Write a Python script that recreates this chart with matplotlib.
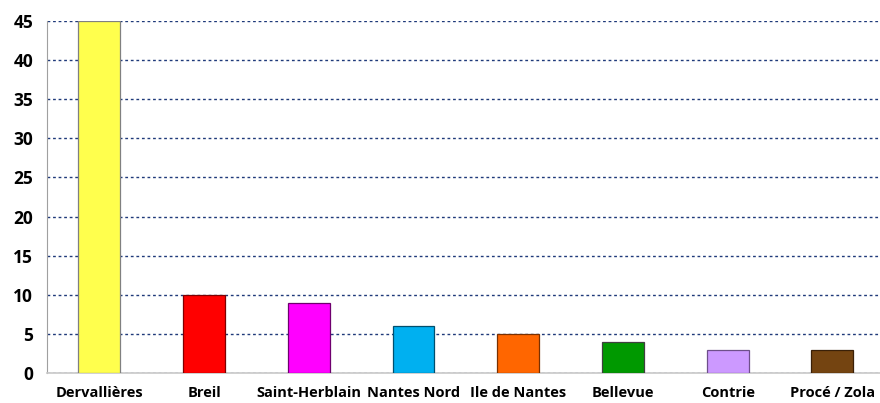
import matplotlib
matplotlib.use("Agg")
import matplotlib.pyplot as plt

quartiers = ["Dervallières", "Breil", "Saint-Herblain", "Nantes Nord",
             "Ile de Nantes", "Bellevue", "Contrie", "Procé / Zola"]
valeurs = [45, 10, 9, 6, 5, 4, 3, 3]
couleurs = ["#FFFF4D", "#FF0000", "#FF00FF", "#00B0F0",
            "#FF6600", "#009900", "#CC99FF", "#744411"]
bords = ["#808080", "#7F0000", "#6E006E", "#004F6E",
         "#7A3000", "#404040", "#6E4F8A", "#3A2008"]

plt.rcParams["font.family"] = ["Open Sans", "DejaVu Sans"]

fig = plt.figure(figsize=(8.8, 4.03), dpi=100)
ax = fig.add_axes([0.0534, 0.0744, 0.952, 0.8735])

x = range(len(quartiers))
ax.bar(x, valeurs, width=0.4, color=couleurs, edgecolor=bords,
       linewidth=0.9, zorder=3)

ax.set_xlim(-0.5, len(quartiers) - 0.5)
ax.set_ylim(0, 45)
ax.set_yticks(range(0, 46, 5))
ax.set_xticks(list(x))
ax.set_xticklabels(quartiers, fontsize=10.5, fontweight="bold")
for lab in ax.get_yticklabels():
    lab.set_fontsize(12.5)
    lab.set_fontweight("bold")

ax.yaxis.grid(True, linestyle=(0, (2, 2)), color="#1F3A7A", linewidth=1, zorder=0)
ax.tick_params(axis="both", length=0)
ax.tick_params(axis="x", pad=9)
ax.tick_params(axis="y", pad=10)

for s in ["top", "right"]:
    ax.spines[s].set_visible(False)
ax.spines["left"].set_color("#A0A0A0")
ax.spines["bottom"].set_color("#C8C8C8")
ax.spines["bottom"].set_linewidth(1.2)

fig.savefig("out.png", dpi=100)
